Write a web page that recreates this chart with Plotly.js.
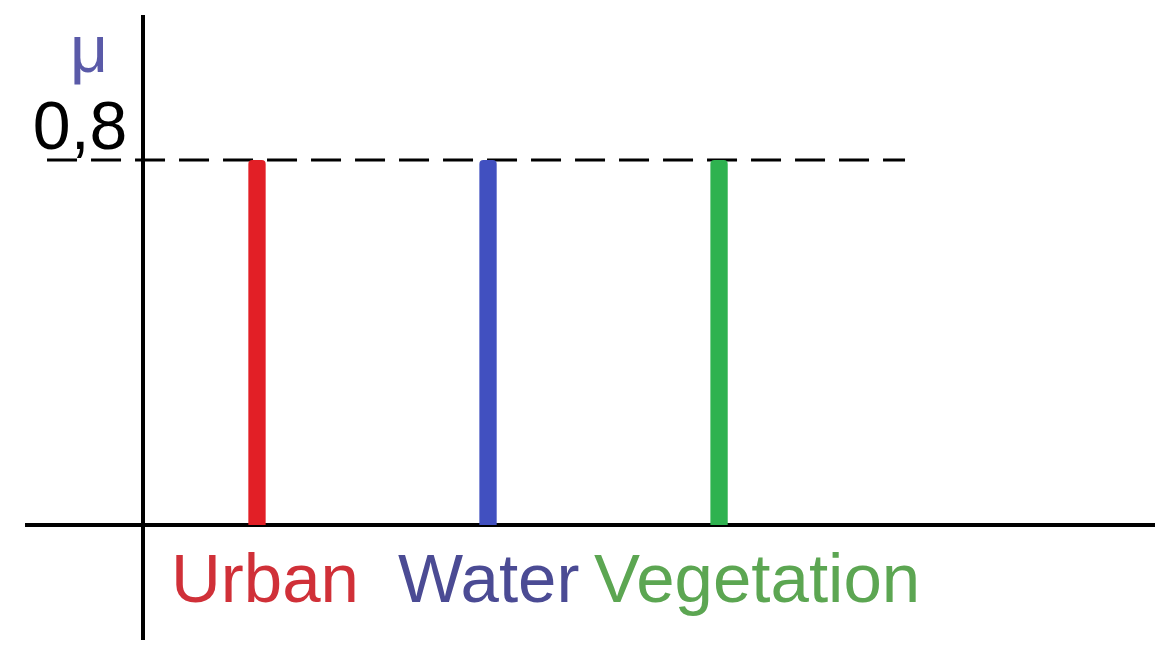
<!DOCTYPE html>
<html>
<head>
<meta charset="utf-8">
<script src="https://cdn.plot.ly/plotly-3.0.1.min.js"></script>
<style>html,body{margin:0;padding:0;background:#fff;}#chart{width:1170px;height:659px;}</style>
</head>
<body>
<div id="chart"></div>
<script>
const categories = ["Urban", "Water", "Vegetation"];
const membership = [0.8, 0.8, 0.8];
const barColors = ["#e21f26", "#4150c0", "#2eb24f"];
const labelColors = ["#d03038", "#4b4b94", "#5ca652"];
const yTickValues = [0.8];
const yTickLabels = ["0,8"];
const yAxisSymbol = "μ";

const FONT = "'Liberation Sans', Arial, sans-serif";
const labelShift = [8, 0, 38];

const trace = {
  type: "bar",
  x: categories,
  y: membership,
  width: 0.075,
  marker: { color: barColors, cornerradius: 4, line: { width: 0 } },
  hoverinfo: "skip"
};

const annotations = categories.map((c, i) => ({
  x: c, xref: "x", y: 0, yref: "y",
  xanchor: "center", yanchor: "top", yshift: -13, xshift: labelShift[i],
  text: c, showarrow: false,
  font: { family: FONT, size: 69, color: labelColors[i] }
}));
annotations.push({
  x: -0.0554, xref: "paper", y: 0.946, yref: "paper",
  xanchor: "center", yanchor: "middle",
  text: yAxisSymbol, showarrow: false,
  font: { family: FONT, size: 66, color: "#5a5aa8" }
});

const layout = {
  width: 1170, height: 659,
  margin: { l: 145, r: 15, t: 15, b: 19 },
  paper_bgcolor: "#ffffff", plot_bgcolor: "#ffffff",
  showlegend: false,
  xaxis: {
    type: "category", range: [-0.4848, 3.887],
    showgrid: false, zeroline: false, showline: false,
    showticklabels: false, ticks: "", fixedrange: true
  },
  yaxis: {
    range: [-0.252, 1.118],
    showgrid: false, zeroline: false,
    showline: true, linewidth: 4, linecolor: "#000000",
    tickmode: "array", tickvals: yTickValues, ticktext: yTickLabels,
    ticks: "", ticklabelstandoff: 0, ticklabelshift: -35,
    tickfont: { family: FONT, size: 68, color: "#000000" },
    fixedrange: true
  },
  shapes: [
    { type: "line", xref: "paper", yref: "y", x0: -0.1188, x1: 1, y0: 0, y1: 0,
      line: { color: "#000000", width: 4 }, layer: "below" },
    { type: "line", xref: "paper", yref: "y", x0: -0.097, x1: 0.7525, y0: 0.8, y1: 0.8,
      line: { color: "#000000", width: 3, dash: "30px,14px" }, layer: "below" }
  ],
  annotations: annotations
};

Plotly.newPlot("chart", [trace], layout, { staticPlot: true, displayModeBar: false });
</script>
</body>
</html>
